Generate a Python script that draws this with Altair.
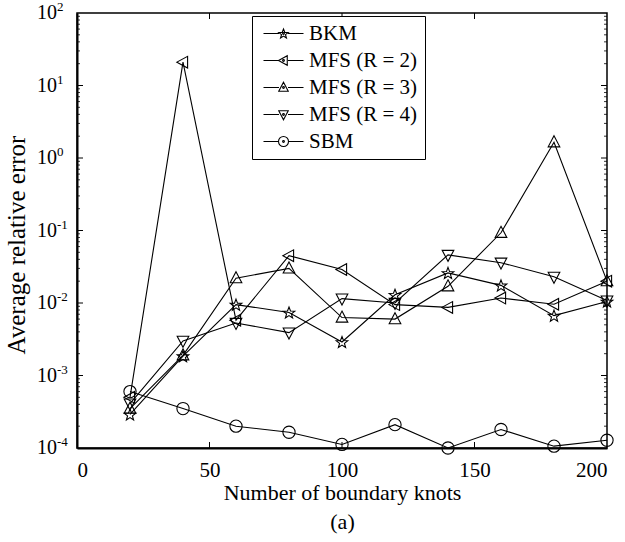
import math
import altair as alt
import pandas as pd

# ---------------- data ----------------
knots = [20, 40, 60, 80, 100, 120, 140, 160, 180, 200]
series_names = ["BKM", "MFS (R = 2)", "MFS (R = 3)", "MFS (R = 4)", "SBM"]
bkm = [2.9e-4, 1.85e-3, 9.5e-3, 7.4e-3, 2.9e-3, 1.3e-2, 2.6e-2, 1.75e-2, 6.7e-3, 1.05e-2]
mfs_r2 = [5.0e-4, 21.0, 5.8e-3, 4.5e-2, 2.9e-2, 9.5e-3, 8.7e-3, 1.17e-2, 9.6e-3, 2.0e-2]
mfs_r3 = [3.5e-4, 1.9e-3, 2.2e-2, 3.0e-2, 6.3e-3, 6.0e-3, 1.7e-2, 9.3e-2, 1.65, 2.0e-2]
mfs_r4 = [4.1e-4, 3.0e-3, 5.3e-3, 3.9e-3, 1.15e-2, 1.0e-2, 4.6e-2, 3.6e-2, 2.3e-2, 1.08e-2]
sbm = [6.0e-4, 3.5e-4, 2.0e-4, 1.65e-4, 1.12e-4, 2.1e-4, 1.0e-4, 1.8e-4, 1.06e-4, 1.28e-4]

x_tick_values = [0, 50, 100, 150, 200]
y_decades = [1e-4, 1e-3, 1e-2, 1e-1, 1e0, 1e1, 1e2]
y_exponents = ["-4", "-3", "-2", "-1", "0", "1", "2"]

rows = []
for name, vals in zip(series_names, [bkm, mfs_r2, mfs_r3, mfs_r4, sbm]):
    for k, v in zip(knots, vals):
        rows.append({"knots": k, "error": v, "series": name})
df = pd.DataFrame(rows)

# ---------------- style ----------------
W, H = 530, 435
FONT = "Liberation Serif"


def star_path():
    pts = []
    for i in range(10):
        a = math.radians(-90 + 36 * i)
        r = 1.0 if i % 2 == 0 else 0.42
        pts.append((r * math.cos(a), r * math.sin(a) + 0.1))
    return "M" + "L".join(f"{x:.3f},{y:.3f}" for x, y in pts) + "Z"


tri_left = "M-1,0L0.75,-0.95L0.75,0.95Z"
tri_up = "M0,-1.05L0.95,0.75L-0.95,0.75Z"
tri_down = "M0,1.05L0.95,-0.75L-0.95,-0.75Z"
circle = "M1,0A1,1 0 1,1 -1,0A1,1 0 1,1 1,0Z"
marker_paths = [star_path(), tri_left, tri_up, tri_down, circle]

dot = "M0.18,0A0.18,0.18 0 1,1 -0.18,0A0.18,0.18 0 1,1 0.18,0"
legend_paths = ["M-4,0L-0.9,0M0.9,0L4,0" + p + dot for p in marker_paths]

x_scale = alt.Scale(domain=[0, 200], nice=False, zero=False)
y_scale = alt.Scale(type="log", domain=[1e-4, 1e2], nice=False)

x_enc = alt.X(
    "knots:Q",
    scale=x_scale,
    axis=alt.Axis(
        values=x_tick_values,
        format="d",
        labelFont=FONT,
        labelFontSize=21,
        labelColor="black",
        labelPadding=11,
        ticks=False,
        grid=False,
        domain=True,
        domainColor="black",
        domainWidth=2,
        title=["Number of boundary knots", "(a)"],
        titleFont=FONT,
        titleFontSize=22,
        titleFontWeight="normal",
        titleColor="black",
        titleLineHeight=29,
        titlePadding=2,
    ),
)
y_enc = alt.Y(
    "error:Q",
    scale=y_scale,
    axis=alt.Axis(
        values=y_decades,
        labels=False,
        ticks=False,
        grid=False,
        domain=True,
        domainColor="black",
        domainWidth=2,
        title="Average relative error",
        titleFont=FONT,
        titleFontSize=25,
        titleFontWeight="normal",
        titleColor="black",
        titleX=-53,
        titleY=H / 2 + 14,
        titleBaseline="alphabetic",
    ),
)

lines = alt.Chart(df).mark_line(color="black", strokeWidth=1.1).encode(
    x=x_enc, y=y_enc, detail="series:N"
)

points = alt.Chart(df).mark_point(
    filled=False, color="black", strokeWidth=1.1, size=150, opacity=1
).encode(
    x=x_enc,
    y=y_enc,
    shape=alt.Shape(
        "series:N",
        scale=alt.Scale(domain=series_names, range=marker_paths),
        legend=None,
    ),
)

legend_layer = (
    alt.Chart(df)
    .transform_filter("false")
    .mark_point(filled=False, color="black", strokeWidth=1.1, opacity=1)
    .encode(
        x=x_enc,
        y=y_enc,
        shape=alt.Shape(
            "series:N",
            scale=alt.Scale(domain=series_names, range=legend_paths),
            legend=alt.Legend(
                title=None,
                orient="none",
                legendX=175,
                legendY=3,
                strokeColor="black",
                fillColor="white",
                padding=7,
                labelFont=FONT,
                labelFontSize=21,
                labelColor="black",
                symbolSize=100,
                symbolStrokeWidth=1.1,
                symbolStrokeColor="black",
                symbolOffset=14,
                labelOffset=15,
                rowPadding=5,
            ),
        ),
    )
)

# inward tick marks (MATLAB style box)
xt_df = pd.DataFrame({"knots": x_tick_values[1:-1]})
yt_df = pd.DataFrame({"error": y_decades[1:-1]})
minor_vals = [m * d for d in y_decades[:-1] for m in range(2, 10)]
ym_df = pd.DataFrame({"error": minor_vals})

tick_bottom = alt.Chart(xt_df).mark_rule(color="black", strokeWidth=1).encode(
    x=x_enc, y=alt.value(H), y2=alt.value(H - 6)
)
tick_top = alt.Chart(xt_df).mark_rule(color="black", strokeWidth=1).encode(
    x=x_enc, y=alt.value(0), y2=alt.value(6)
)
tick_left = alt.Chart(yt_df).mark_rule(color="black", strokeWidth=1).encode(
    y=y_enc, x=alt.value(0), x2=alt.value(6)
)
tick_right = alt.Chart(yt_df).mark_rule(color="black", strokeWidth=1).encode(
    y=y_enc, x=alt.value(W), x2=alt.value(W - 6)
)
minor_left = alt.Chart(ym_df).mark_rule(color="black", strokeWidth=0.8).encode(
    y=y_enc, x=alt.value(0), x2=alt.value(3)
)
minor_right = alt.Chart(ym_df).mark_rule(color="black", strokeWidth=0.8).encode(
    y=y_enc, x=alt.value(W), x2=alt.value(W - 3)
)

ylab_df = pd.DataFrame({"error": y_decades, "exp": y_exponents})
ylab_base = alt.Chart(ylab_df).mark_text(
    align="right", baseline="middle", font=FONT, fontSize=20, color="black"
).encode(y=y_enc, x=alt.value(-20), text=alt.value("10"))
ylab_exp = alt.Chart(ylab_df).mark_text(
    align="left", baseline="middle", font=FONT, fontSize=13, color="black", dy=-6
).encode(y=y_enc, x=alt.value(-20), text="exp:N")

chart = (
    alt.layer(
        lines,
        points,
        legend_layer,
        tick_bottom,
        tick_top,
        tick_left,
        tick_right,
        minor_left,
        minor_right,
        ylab_base,
        ylab_exp,
    )
    .resolve_scale(shape="independent")
    .properties(
        width=W,
        height=H,
        padding={"left": 77, "top": 13, "right": 18, "bottom": 94},
        autosize=alt.AutoSizeParams(type="none"),
        background="white",
    )
    .configure_view(stroke="black", strokeWidth=1.5)
)

chart.save("out.html", embed_options={"renderer": "svg", "actions": False})
